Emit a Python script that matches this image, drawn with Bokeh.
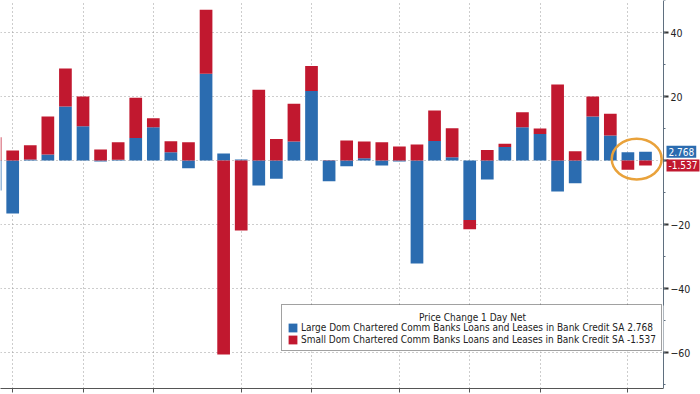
import numpy as np
import pandas as pd
from bokeh.plotting import figure
from bokeh.models import (ColumnDataSource, Range1d, LinearAxis, FixedTicker,
                          SingleIntervalTicker, Legend, LegendItem, Label, Grid,
                          BoxAnnotation)
from bokeh.embed import file_html
from bokeh.resources import INLINE

# ---------------- data ----------------
dates = pd.date_range("2022-12-28", periods=38, freq="7D")   # weekly (Wednesdays)
large_name = "Large Dom Chartered Comm Banks Loans and Leases in Bank Credit SA"
small_name = "Small Dom Chartered Comm Banks Loans and Leases in Bank Credit SA"
large = [-9.4, -16.6, 0.3, 1.9, 16.9, 10.7, -0.3, 0.2, 7.0, 10.4,
         2.6, -2.4, 27.1, 2.2, 0.3, -7.8, -5.7, 5.9, 21.7, -6.5,
         -1.8, 0.7, -1.6, -0.3, -32.2, 6.1, 1.0, -18.6, -5.9, 4.2,
         10.4, 8.3, -9.7, -7.1, 13.75, 7.8, 2.6, 2.768]
small = [7.3, 3.1, 4.5, 11.85, 11.85, 9.3, 3.4, 5.5, 12.6, 2.8,
         3.4, 5.7, 20.0, -60.6, -21.9, 22.1, 6.7, 11.8, 7.8, 0.1,
         6.25, 5.2, 5.7, 4.4, 5.0, 9.5, 9.1, -2.9, 3.3, 1.0,
         4.7, 1.7, 23.75, 2.9, 6.25, 6.8, -2.9, -1.537]
legend_title = "Price Change 1 Day Net"

BLUE = "#2b6cb0"
RED = "#c1182f"
ORANGE = "#e9a23b"
FONT = "DejaVu Sans Condensed"

# ---------------- layout helpers ----------------
W, H = 700, 394
FRAME_H = 388
WEEK = 7 * 24 * 3600 * 1000.0
x_ms = dates.asi8 / 1e6
x_start = x_ms[0] + 0.306 * WEEK
x_end = x_ms[0] + 40.13 * WEEK
x_axis_pos = x_ms[0] + 38.02 * WEEK     # where the value axis sits
y_lo, y_hi = -71.25, 50.0


def px_x(px):
    return x_start + px * (x_end - x_start) / W


def px_y(py):
    return y_hi - py * (y_hi - y_lo) / FRAME_H


# ---------------- derived ----------------
b = np.array(large)
r = np.array(small)
r_bot = np.where(np.sign(r) == np.sign(b), b, 0.0)
r_top = r_bot + r
src = ColumnDataSource(dict(x=x_ms, b_top=b, r_bot=r_bot, r_top=r_top))

# month boundaries: first weekly observation of each month
bounds = [x_ms[i] for i in range(1, len(dates)) if dates[i].month != dates[i - 1].month]

p = figure(width=W, height=H, output_backend="svg", toolbar_location=None,
           x_range=Range1d(x_start, x_end), y_range=Range1d(y_lo, y_hi),
           x_axis_type=None, y_axis_type=None,
           min_border_left=0, min_border_top=0, min_border_right=0, min_border_bottom=H - FRAME_H,
           outline_line_color=None, background_fill_color="white", border_fill_color="white")

# grids
xgrid = Grid(dimension=0, ticker=FixedTicker(ticks=bounds),
             grid_line_color="#9a9a9a", grid_line_dash="1 3", grid_line_width=1)
ygrid = Grid(dimension=1, ticker=SingleIntervalTicker(interval=20),
             grid_line_color="#9a9a9a", grid_line_dash="1 3", grid_line_width=1)
if "cross_bounds" in Grid.properties():
    ygrid.cross_bounds = (x_start, x_axis_pos)
p.add_layout(xgrid)
p.add_layout(ygrid)

# bars (stacked by sign)
w = 0.7225 * WEEK
rb = p.vbar(x="x", width=w, bottom=0, top="b_top", source=src,
            fill_color=BLUE, line_color=None)
rr = p.vbar(x="x", width=w, bottom="r_bot", top="r_top", source=src,
            fill_color=RED, line_color=None)

# highlight of last two observations
lo = min(np.min(np.minimum(0, r_top[-2:])), np.min(np.minimum(0, b[-2:])))
hi = max(np.max(np.maximum(0, r_top[-2:])), np.max(np.maximum(0, b[-2:])))
p.ellipse(x=float(np.mean(x_ms[-2:])), y=float((lo + hi) / 2) + 0.5, width=2.84 * WEEK, height=12.7,
          fill_color=None, line_color=ORANGE, line_width=2.5)

# axes
yax = LinearAxis(ticker=SingleIntervalTicker(interval=20, num_minor_ticks=2),
                 fixed_location=x_axis_pos,
                 major_label_overrides={0: ""},
                 axis_line_color="#5f6f7f", axis_line_width=1,
                 major_tick_out=5, major_tick_in=0, major_tick_line_color="#333333",
                 major_tick_line_width=2,
                 minor_tick_out=2, minor_tick_in=0, minor_tick_line_color="#5f6f7f",
                 major_label_text_font=FONT, major_label_text_font_size="10.5px",
                 major_label_text_color="#222222", major_label_standoff=2)
p.add_layout(yax, "right")

xax = LinearAxis(ticker=FixedTicker(ticks=[], minor_ticks=bounds),
                 bounds=(x_start, x_axis_pos),
                 axis_line_color="#555555", major_tick_out=0, major_tick_in=0,
                 major_label_standoff=0, minor_tick_out=4, minor_tick_in=0,
                 minor_tick_line_color="#555555")
p.add_layout(xax, "below")

# legend: white panel behind a transparent legend, centred title on top
LG_L, LG_R, LG_T, LG_B = 281, 663, 305, 351
p.add_layout(BoxAnnotation(left=px_x(LG_L), right=px_x(LG_R), top=px_y(LG_T), bottom=px_y(LG_B),
                           fill_color="white", fill_alpha=1, line_color=None, level="annotation"))
legend = Legend(items=[LegendItem(label=f"{large_name} {large[-1]:.3f}", renderers=[rb]),
                       LegendItem(label=f"{small_name} {small[-1]:.3f}", renderers=[rr])],
                location=(LG_L, FRAME_H - LG_B), title="\u00a0", title_text_font=FONT,
                title_text_font_size="10px", title_standoff=0,
                padding=5, spacing=0, margin=0, label_height=12,
                glyph_height=11, glyph_width=11, label_standoff=3,
                label_text_font=FONT, label_text_font_size="10px",
                label_text_color="#222222", border_line_color="#444444",
                border_line_width=1, background_fill_alpha=0)
p.add_layout(legend)
p.add_layout(Label(x=px_x((LG_L + LG_R) / 2), y=px_y(316.5), x_units="data", y_units="data",
                   text=legend_title, text_align="center", text_baseline="middle",
                   text_font=FONT, text_font_size="10px", text_color="#222222",
                   level="overlay"))

# last-value tags on the value axis
for val, col in ((large[-1], BLUE), (small[-1], RED)):
    p.add_layout(Label(x=666, y=val, x_units="screen", y_units="data", text=f"{val:.3f}",
                       text_align="left", text_baseline="middle", text_font=FONT,
                       text_font_size="10px", text_color="white",
                       background_fill_color=col, padding=2, level="overlay"))

open("out.html", "w").write(file_html(p, INLINE))
